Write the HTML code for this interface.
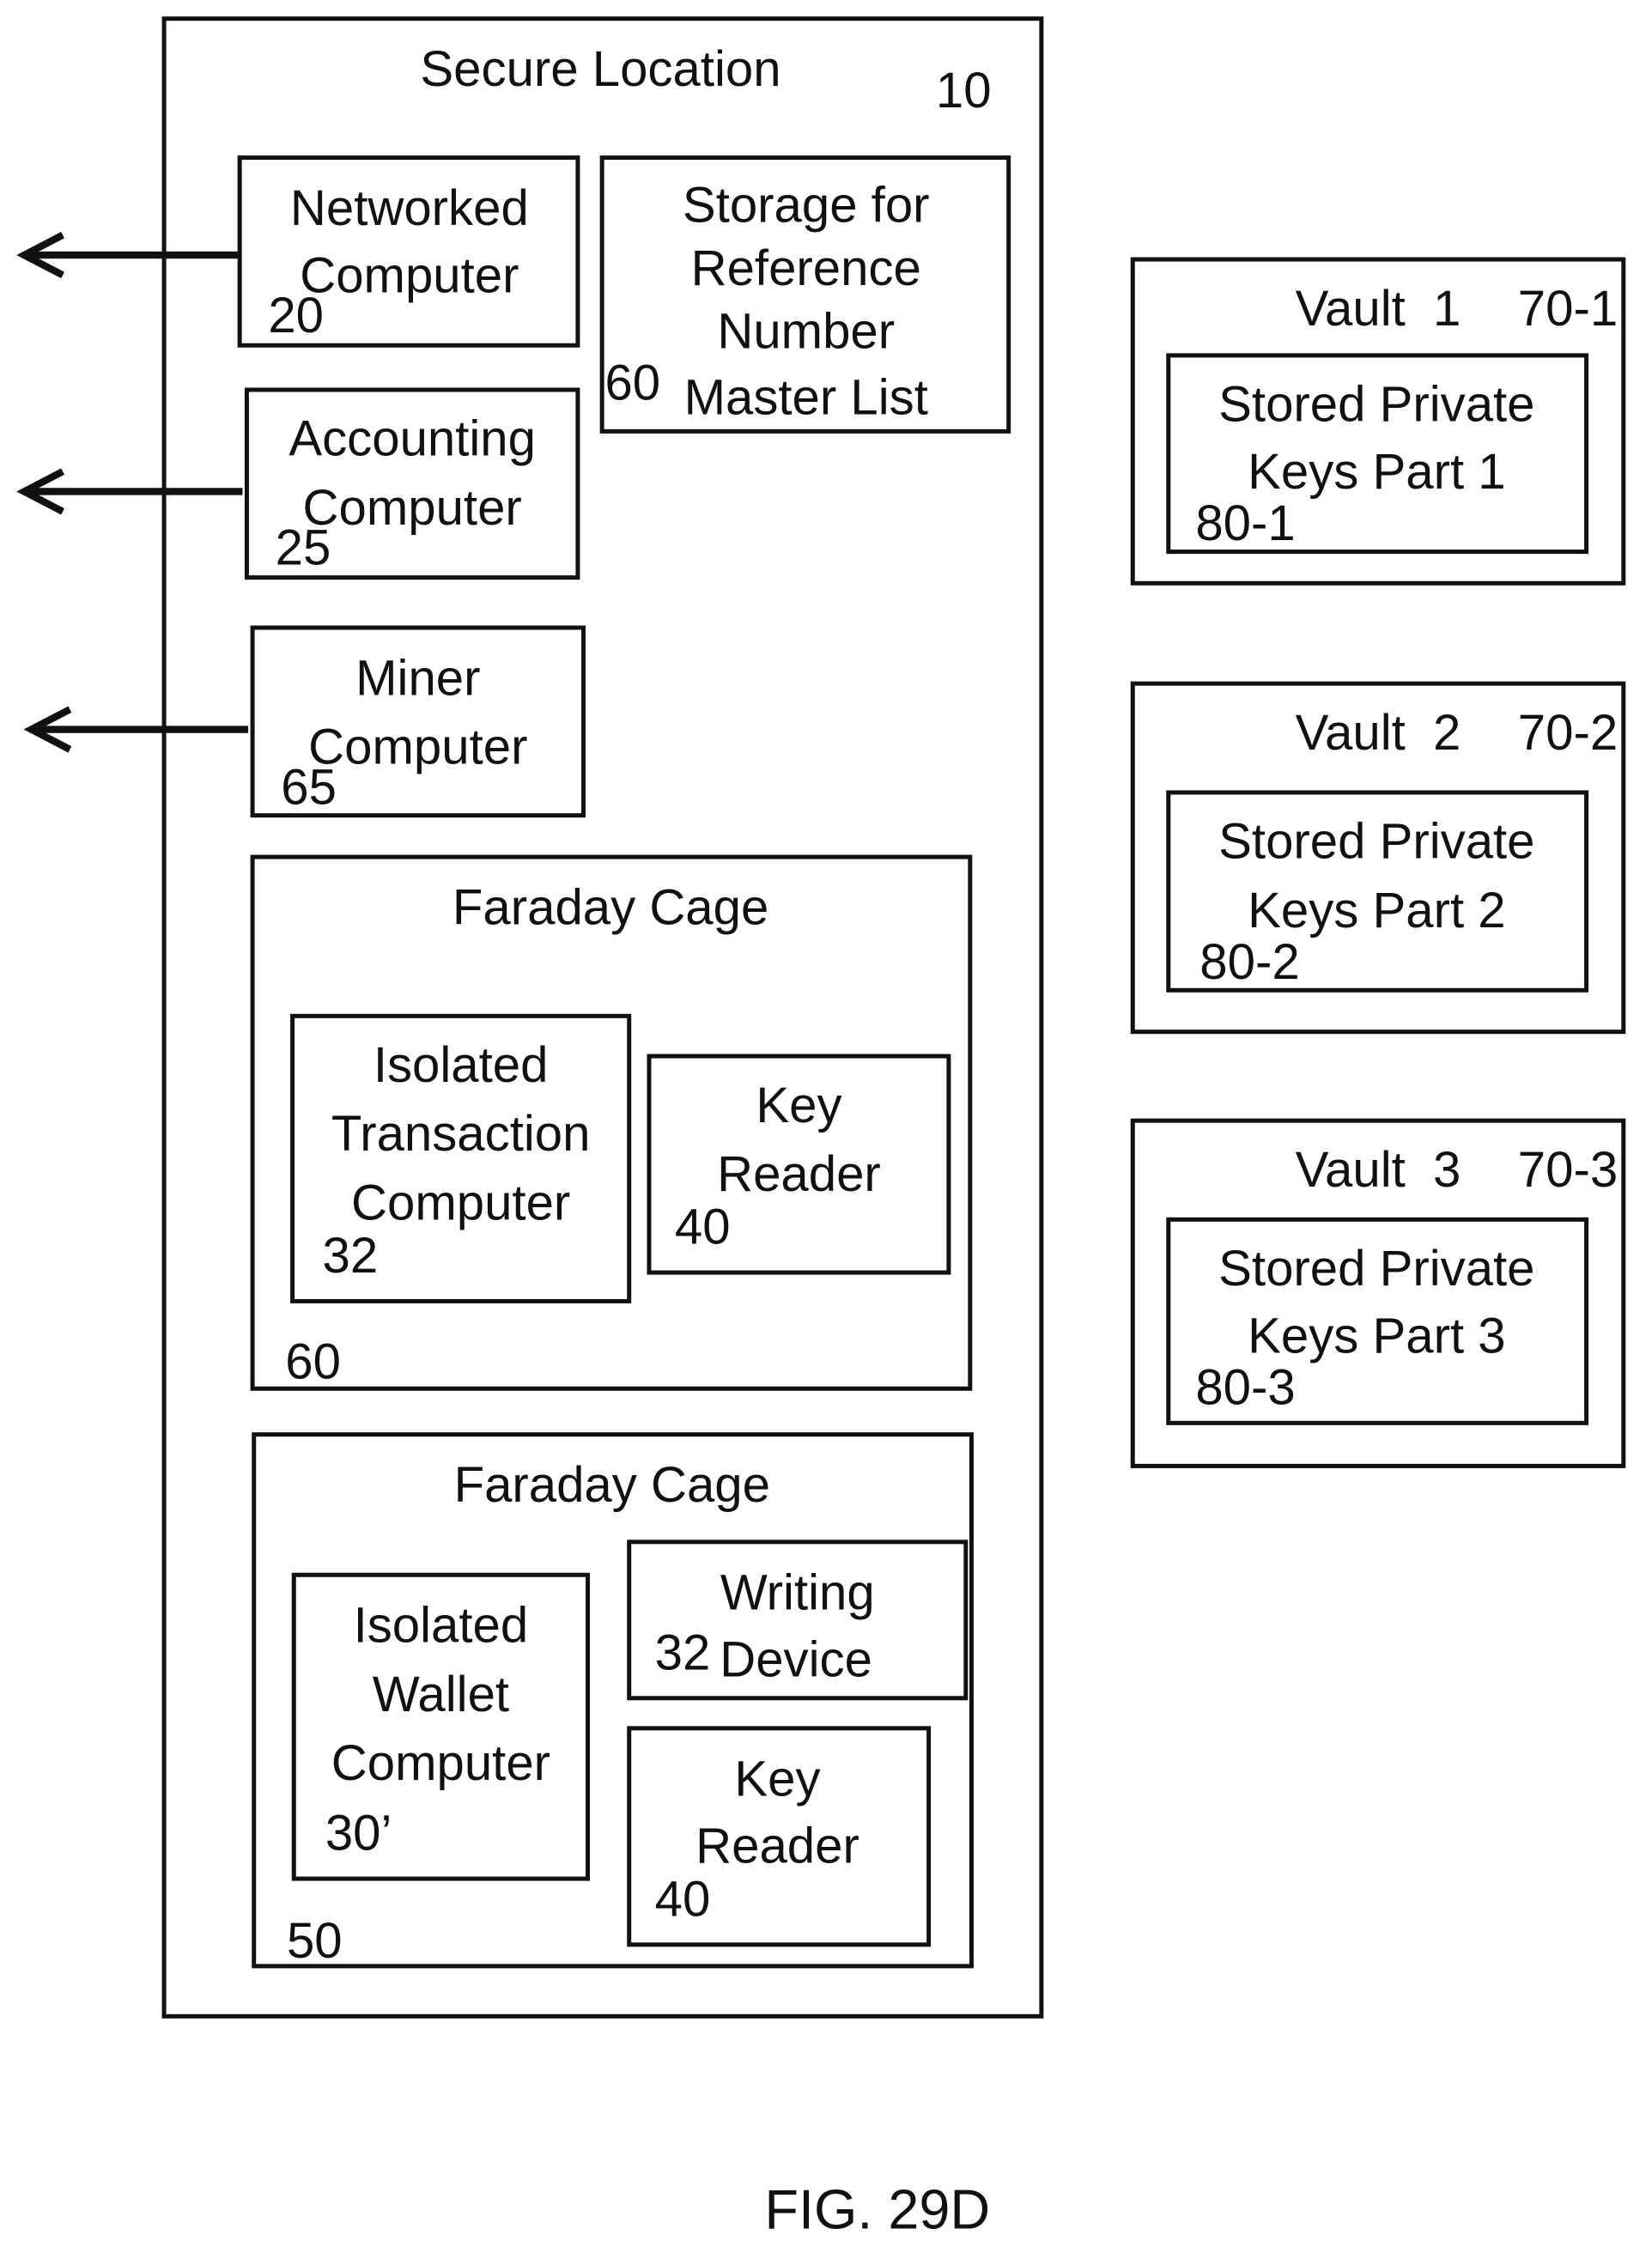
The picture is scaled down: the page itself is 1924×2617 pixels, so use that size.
<!DOCTYPE html>
<html><head><meta charset="utf-8"><style>
html,body{margin:0;padding:0;background:#fff;}
svg{display:block;}
text{font-family:"Liberation Sans",sans-serif;font-size:35px;fill:#111;}
.c{text-anchor:middle;}
rect{fill:none;stroke:#111;stroke-width:3;}
</style></head><body>
<svg width="1924" height="2617" viewBox="0 0 1158 1568" preserveAspectRatio="none" xmlns="http://www.w3.org/2000/svg">
<rect x="115" y="13" width="615" height="1394"/>
<text class="c" x="421" y="60">Secure Location</text>
<text x="656" y="75">10</text>

<rect x="168" y="110" width="237" height="131"/>
<text class="c" x="287" y="157">Networked</text>
<text class="c" x="287" y="204">Computer</text>
<text x="188" y="232">20</text>

<rect x="422" y="110" width="285" height="191"/>
<text class="c" x="565" y="155">Storage for</text>
<text class="c" x="565" y="199">Reference</text>
<text class="c" x="565" y="243">Number</text>
<text class="c" x="565" y="289">Master List</text>
<text x="424" y="279">60</text>

<rect x="173" y="272" width="232" height="131"/>
<text class="c" x="289" y="318">Accounting</text>
<text class="c" x="289" y="366">Computer</text>
<text x="193" y="394">25</text>

<rect x="177" y="438" width="232" height="131"/>
<text class="c" x="293" y="485">Miner</text>
<text class="c" x="293" y="533">Computer</text>
<text x="197" y="561">65</text>

<g stroke="#111" stroke-width="5" fill="none">
<line x1="168" y1="178" x2="17" y2="178"/><polyline points="44,164 17,178 44,192"/>
<line x1="170" y1="343" x2="17" y2="343"/><polyline points="44,329 17,343 44,357"/>
<line x1="174" y1="509" x2="22" y2="509"/><polyline points="49,495 22,509 49,523"/>
</g>

<rect x="177" y="598" width="503" height="371"/>
<text class="c" x="428" y="645">Faraday Cage</text>
<text x="200" y="962">60</text>
<rect x="205" y="709" width="236" height="199"/>
<text class="c" x="323" y="755">Isolated</text>
<text class="c" x="323" y="803">Transaction</text>
<text class="c" x="323" y="851">Computer</text>
<text x="226" y="888">32</text>
<rect x="455" y="737" width="210" height="151"/>
<text class="c" x="560" y="783">Key</text>
<text class="c" x="560" y="831">Reader</text>
<text x="473" y="868">40</text>

<rect x="178" y="1001" width="503" height="371"/>
<text class="c" x="429" y="1048">Faraday Cage</text>
<text x="201" y="1366">50</text>
<rect x="206" y="1099" width="206" height="212"/>
<text class="c" x="309" y="1146">Isolated</text>
<text class="c" x="309" y="1194">Wallet</text>
<text class="c" x="309" y="1242">Computer</text>
<text x="228" y="1291">30’</text>
<rect x="441" y="1076" width="236" height="109"/>
<text class="c" x="559" y="1123">Writing</text>
<text class="c" x="558" y="1170">Device</text>
<text x="459" y="1165">32</text>
<rect x="441" y="1206" width="210" height="151"/>
<text class="c" x="545" y="1253">Key</text>
<text class="c" x="545" y="1300">Reader</text>
<text x="459" y="1337">40</text>

<rect x="794" y="181" width="344" height="226"/>
<text class="c" x="966" y="227">Vault&#160; 1</text>
<text x="1064" y="227">70-1</text>
<rect x="819" y="248" width="293" height="137"/>
<text class="c" x="965" y="294">Stored Private</text>
<text class="c" x="965" y="341">Keys Part 1</text>
<text x="838" y="377">80-1</text>

<rect x="794" y="477" width="344" height="243"/>
<text class="c" x="966" y="523">Vault&#160; 2</text>
<text x="1064" y="523">70-2</text>
<rect x="819" y="553" width="293" height="138"/>
<text class="c" x="965" y="599">Stored Private</text>
<text class="c" x="965" y="647">Keys Part 2</text>
<text x="841" y="683">80-2</text>

<rect x="794" y="782" width="344" height="241"/>
<text class="c" x="966" y="828">Vault&#160; 3</text>
<text x="1064" y="828">70-3</text>
<rect x="819" y="851" width="293" height="142"/>
<text class="c" x="965" y="897">Stored Private</text>
<text class="c" x="965" y="944">Keys Part 3</text>
<text x="838" y="980">80-3</text>

<text class="c" x="615" y="1555" style="font-size:39px">FIG. 29D</text>
</svg>
</body></html>
